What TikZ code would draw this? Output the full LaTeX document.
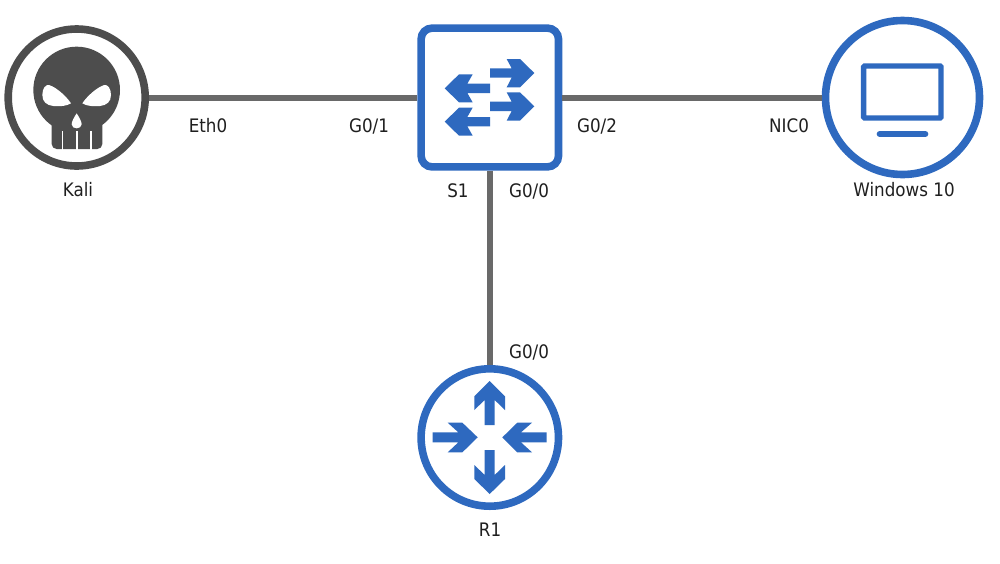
\documentclass[tikz,border=0pt]{standalone}
\usepackage{fontspec}
\setmainfont[FakeStretch=0.9]{DejaVu Sans}
\definecolor{netblue}{HTML}{2E69BF}
\definecolor{skullgray}{HTML}{4D4D4D}
\definecolor{linkgray}{HTML}{696969}
\definecolor{labelink}{HTML}{1F1F1F}
\tikzset{
  device/.style={draw=netblue,line width=7.6pt,fill=white,inner sep=0pt},
  roundhost/.style={device,circle},
  link/.style={draw=linkgray,line width=6pt},
  lbl/.style={anchor=base,inner sep=0pt,text=labelink,font=\fontsize{18.6pt}{20pt}\selectfont},
  icon/.style={fill=netblue,draw=none}
}
\begin{document}
\begin{tikzpicture}[x=1pt,y=-1pt]
\useasboundingbox (0,0) rectangle (1000,563);
% devices
\node[roundhost,draw=skullgray,minimum size=137pt] (kali) at (76.7,97.5) {};
\node[device,rectangle,rounded corners=11pt,minimum width=137.4pt,minimum height=138.8pt] (s1) at (489.8,97.5) {};
\node[roundhost,minimum size=137.4pt] (r1) at (489.8,437.5) {};
\node[roundhost,minimum size=154pt] (win) at (902.5,97.5) {};
% links
\draw[link] (kali) -- (s1);
\draw[link] (s1) -- (win);
\draw[link] (s1) -- (r1);
% skull
\begin{scope}[shift={(25,40)},x=0.33333pt,y=-0.33333pt]
  \fill[skullgray] (155,150) circle[radius=130];
  \fill[skullgray,rounded corners=5pt] (80,240) -- (232,240) -- (232,327) -- (80,327) -- cycle;
  \fill[white] (110,272) rectangle (115,335);
  \fill[white] (152.5,272) rectangle (157.5,335);
  \fill[white] (195,272) rectangle (200,335);
  \fill[white] (52,165) .. controls (52,145) and (62,133) .. (72,135)
     .. controls (95,142) and (125,170) .. (138,190)
     .. controls (125,198) and (105,200) .. (85,198)
     .. controls (65,196) and (52,185) .. (52,165) -- cycle;
  \fill[white] (258,165) .. controls (258,145) and (248,133) .. (238,135)
     .. controls (215,142) and (185,170) .. (172,190)
     .. controls (185,198) and (205,200) .. (225,198)
     .. controls (245,196) and (258,185) .. (258,165) -- cycle;
  \fill[white] (155,220) .. controls (147,232) and (140,245) .. (140,253)
     .. controls (140,261) and (148,265) .. (155,265)
     .. controls (162,265) and (170,261) .. (170,253)
     .. controls (170,245) and (163,232) .. (155,220) -- cycle;
\end{scope}
% switch arrows
\begin{scope}[shift={(410,15)},x=0.33333pt,y=-0.33333pt]
  \foreach \dy in {0,100}{
    \begin{scope}[yshift=-\dy*0.33333pt]
    \fill[icon] (240,160) -- (305,160) -- (290,132) -- (330,132) -- (373,174) -- (330,217) -- (290,217) -- (305,188) -- (240,188) -- cycle;
    \fill[icon] (104,220) -- (147,178) -- (188,178) -- (172,206) -- (240,206) -- (240,234) -- (172,234) -- (188,262) -- (147,262) -- cycle;
    \end{scope}
  }
\end{scope}
% router arrows
\begin{scope}[shift={(410,355)},x=0.33333pt,y=-0.33333pt]
  \fill[icon] (239,78) -- (285,124) -- (285,165) -- (254,135) -- (254,210) -- (224,210) -- (224,135) -- (193,165) -- (193,124) -- cycle;
  \fill[icon] (239,417) -- (285,372) -- (285,330) -- (254,360) -- (254,285) -- (224,285) -- (224,360) -- (193,330) -- (193,372) -- cycle;
  \fill[icon] (203,247) -- (157,203) -- (113,203) -- (145,232) -- (68,232) -- (68,262) -- (145,262) -- (113,292) -- (157,292) -- cycle;
  \fill[icon] (277,247) -- (322,203) -- (366,203) -- (333,232) -- (410,232) -- (410,262) -- (333,262) -- (366,292) -- (322,292) -- cycle;
\end{scope}
% monitor
\begin{scope}[shift={(810,10)},x=0.33333pt,y=-0.33333pt]
  \draw[netblue,line width=5.4pt,rounded corners=1pt] (161,168) rectangle (393,324);
  \draw[netblue,line width=6pt,line cap=round] (209,372) -- (346,372);
\end{scope}
% labels
\node[lbl] (lkali) at (78,196) {Kali};
\node[lbl] (lwin) at (904,196) {Windows 10};
\node[lbl] (ls1) at (458,197) {S1};
\node[lbl] (lr1) at (490,536) {R1};
\node[lbl] (p1) at (208,132) {Eth0};
\node[lbl] (p2) at (369,132) {G0/1};
\node[lbl] (p3) at (597,132) {G0/2};
\node[lbl] (p4) at (789,132) {NIC0};
\node[lbl] (p5) at (529,197) {G0/0};
\node[lbl] (p6) at (529,358) {G0/0};
\end{tikzpicture}
\end{document}
